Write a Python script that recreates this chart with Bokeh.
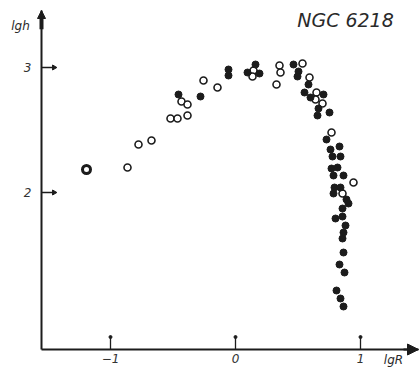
from bokeh.plotting import figure
from bokeh.models import Range1d, FixedTicker, Label, Arrow, NormalHead
from bokeh.embed import file_html
from bokeh.resources import INLINE

# log R and log density (lg h) of NGC 6218
open_x = [-0.864, -0.776, -0.672, -0.432, -0.384, -0.384, -0.520, -0.464,
          -0.256, -0.144, 0.144, 0.136, 0.352, 0.360, 0.328, 0.536, 0.592,
          0.648, 0.640, 0.696, 0.768, 0.944, 0.856]
open_y = [2.200, 2.384, 2.416, 2.728, 2.704, 2.616, 2.592, 2.592,
          2.896, 2.840, 2.976, 2.928, 3.016, 2.960, 2.864, 3.032, 2.920,
          2.800, 2.744, 2.712, 2.480, 2.080, 1.992]

ring_x = [-1.192]
ring_y = [2.184]

filled_x = [-0.456, -0.280, -0.056, -0.056, 0.096, 0.160, 0.192, 0.464, 0.504,
            0.496, 0.584, 0.552, 0.704, 0.600, 0.664, 0.656, 0.752, 0.728,
            0.832, 0.760, 0.776, 0.840, 0.768, 0.816, 0.784, 0.864, 0.792,
            0.840, 0.784, 0.888, 0.904, 0.856, 0.800, 0.856, 0.880, 0.864,
            0.856, 0.864, 0.832, 0.872, 0.808, 0.840, 0.864]
filled_y = [2.784, 2.768, 2.984, 2.936, 2.960, 3.024, 2.952, 3.024, 2.968,
            2.928, 2.864, 2.800, 2.784, 2.760, 2.672, 2.616, 2.640, 2.424,
            2.368, 2.344, 2.288, 2.288, 2.192, 2.200, 2.136, 2.136, 2.040,
            2.040, 1.992, 1.944, 1.912, 1.872, 1.792, 1.808, 1.736, 1.680,
            1.632, 1.520, 1.424, 1.360, 1.216, 1.152, 1.088]

x_ticks = [-1, 0, 1]
x_tick_labels = {-1: "\u22121", 0: "0", 1: "1"}
y_ticks = [2, 3]
y_tick_labels = {2: "2", 3: "3"}

# axis origin and ends (lg R, lg h)
X0, X1 = -1.552, 1.464
Y0, Y1 = 0.744, 3.456
TICK = 0.1

INK = "#1c1c1c"
FONT = "DejaVu Sans"

p = figure(width=420, height=373, output_backend="svg", toolbar_location=None,
           x_range=Range1d(-1.88, 1.48), y_range=Range1d(0.552, 3.536),
           min_border=0)
p.outline_line_color = None
p.grid.visible = False
p.background_fill_color = "white"
p.border_fill_color = "white"

p.xaxis.fixed_location = Y0
p.yaxis.fixed_location = X0
p.xaxis.bounds = (X0, X1)
p.yaxis.bounds = (Y0, Y1)

for ax, ticks, labels in ((p.xaxis, x_ticks, x_tick_labels), (p.yaxis, y_ticks, y_tick_labels)):
    ax.ticker = FixedTicker(ticks=ticks)
    ax.major_label_overrides = labels
    ax.minor_tick_line_color = None
    ax.major_tick_in = 0
    ax.major_tick_out = 0
    ax.axis_line_width = 2
    ax.axis_line_color = INK
    ax.major_label_text_font = FONT
    ax.major_label_text_font_style = "italic"
    ax.major_label_text_font_size = "12px"
    ax.major_label_text_color = "#333333"
p.xaxis.major_label_standoff = 4
p.yaxis.major_label_standoff = 10

# tick marks pointing into the plot
p.segment(x0=x_ticks, y0=[Y0] * len(x_ticks), x1=x_ticks,
          y1=[Y0 + TICK] * len(x_ticks), line_color=INK, line_width=1.3)
p.scatter(x=x_ticks, y=[Y0 + TICK] * len(x_ticks), marker="circle", size=3,
          fill_color=INK, line_color=INK)
p.segment(x0=[X0] * len(y_ticks), y0=y_ticks, x1=[X0 + TICK] * len(y_ticks),
          y1=y_ticks, line_color=INK, line_width=1.3)
p.scatter(x=[X0 + TICK] * len(y_ticks), y=y_ticks, marker="triangle", angle=-1.5708,
          size=5, fill_color=INK, line_color=INK)

# axis arrows
p.add_layout(Arrow(end=NormalHead(size=11, fill_color=INK, line_color=INK),
                   x_start=X1 - 0.12, y_start=Y0, x_end=X1, y_end=Y0,
                   line_color=INK, line_width=2))
p.add_layout(Arrow(end=NormalHead(size=8, fill_color=INK, line_color=INK),
                   x_start=X0, y_start=Y1 - 0.15, x_end=X0, y_end=Y1,
                   line_color=INK, line_width=4))

p.scatter(open_x, open_y, marker="circle", size=7, fill_color="white",
          line_color=INK, line_width=1.6)
p.scatter(ring_x, ring_y, marker="circle", size=8, fill_color="white",
          line_color=INK, line_width=3)
p.scatter(filled_x, filled_y, marker="circle", size=7, fill_color=INK,
          line_color=INK, line_width=1)

p.add_layout(Label(x=0.88, y=3.384, text="NGC 6218", text_font=FONT,
                   text_font_style="italic", text_font_size="19px",
                   text_color="#2a2a2a", text_align="center",
                   text_baseline="middle"))
p.add_layout(Label(x=-1.72, y=3.336, text="lgh", text_font=FONT,
                   text_font_style="italic", text_font_size="12px",
                   text_color="#2a2a2a", text_align="center",
                   text_baseline="middle"))
p.add_layout(Label(x=1.264, y=0.664, text="lgR", text_font=FONT,
                   text_font_style="italic", text_font_size="12px",
                   text_color="#2a2a2a", text_align="center",
                   text_baseline="middle"))

open("out.html", "w").write(file_html(p, INLINE))
